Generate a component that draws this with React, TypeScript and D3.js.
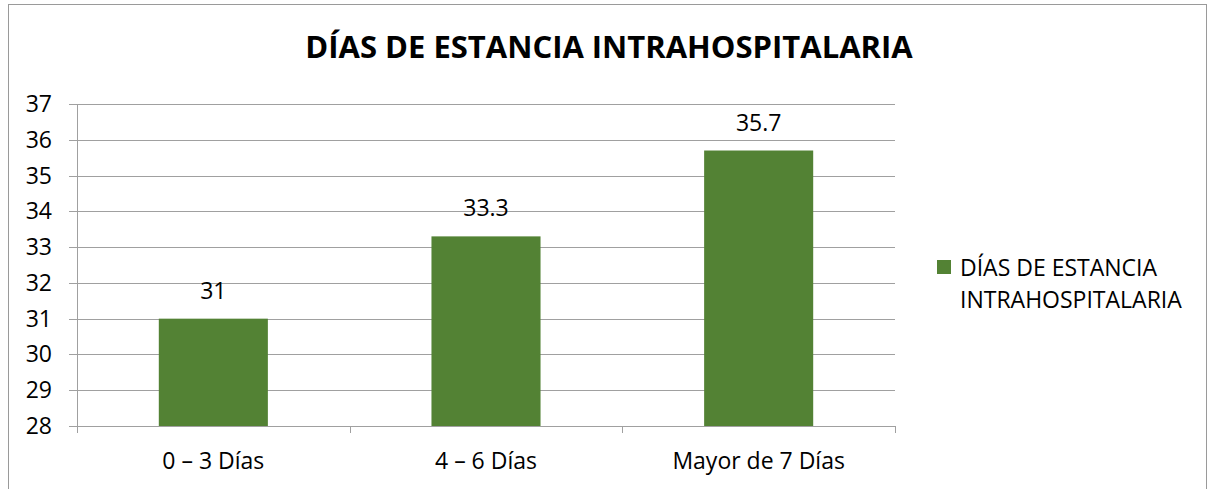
import React from "react";
import * as d3 from "d3";

const categories = ["0 – 3 Días", "4 – 6 Días", "Mayor de 7 Días"];
const values = [31, 33.3, 35.7];
const valueLabels = ["31", "33.3", "35.7"];
const yTicks = [28, 29, 30, 31, 32, 33, 34, 35, 36, 37];
const title = "DÍAS DE ESTANCIA INTRAHOSPITALARIA";
const legendLines = ["DÍAS DE ESTANCIA", "INTRAHOSPITALARIA"];

export default function App() {
  const W = 1212, H = 489;
  const left = 77, right = 895, top = 104, bottom = 426;
  const x = d3.scaleBand<string>().domain(categories).range([left, right]).paddingInner(0.6).paddingOuter(0.3);
  const xb = d3.scaleBand<string>().domain(categories).range([left, right]);
  const y = d3.scaleLinear().domain([28, 37]).range([bottom, top]);
  const font = "'Open Sans', sans-serif";
  const green = "#538234";
  const grid = "#a0a0a0";
  const fs = 23;
  return (
    <svg width={W} height={H} style={{ position: "absolute", left: 0, top: 0, background: "#fff" }} fontFamily={font}>
      <rect x={8.5} y={4.5} width={1198} height={520} fill="#fff" stroke="#9a9a9a" strokeWidth={1} />
      <text x={609} y={58} textAnchor="middle" fontSize={31} fontWeight={700} fill="#000">{title}</text>
      {yTicks.map((t) => (
        <g key={t}>
          <line x1={69} x2={right} y1={Math.round(y(t)) + 0.5} y2={Math.round(y(t)) + 0.5} stroke={grid} strokeWidth={1} />
          <text x={52} y={y(t) + 8} textAnchor="end" fontSize={fs} fill="#000">{t}</text>
        </g>
      ))}
      <line x1={left + 0.5} x2={left + 0.5} y1={top} y2={bottom} stroke={grid} />
      {categories.map((c, i) => (
        <g key={c}>
          <rect x={x(c)} y={y(values[i])} width={x.bandwidth()} height={bottom - y(values[i])} fill={green} />
          <text x={x(c)! + x.bandwidth() / 2} y={y(values[i]) - 20} textAnchor="middle" fontSize={fs} fill="#000">{valueLabels[i]}</text>
          <text x={xb(c)! + xb.bandwidth() / 2} y={469} textAnchor="middle" fontSize={fs} fill="#000">{c}</text>
        </g>
      ))}
      {[...categories.map((c) => xb(c)!), right].map((px, i) => (
        <line key={i} x1={Math.round(px) + 0.5} x2={Math.round(px) + 0.5} y1={bottom} y2={433} stroke={grid} />
      ))}
      <rect x={937} y={260} width={14} height={14} fill={green} />
      {legendLines.map((l, i) => (
        <text key={i} x={960} y={276 + i * 32} fontSize={fs} fill="#000">{l}</text>
      ))}
    </svg>
  );
}
